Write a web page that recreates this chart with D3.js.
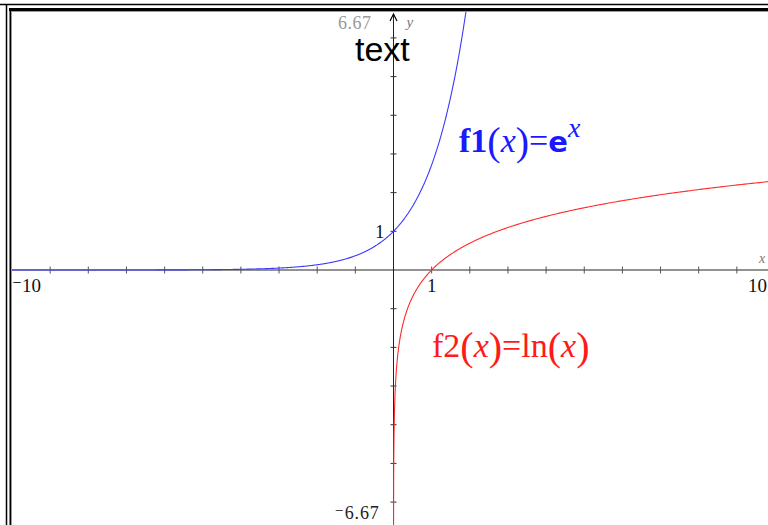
<!DOCTYPE html>
<html>
<head>
<meta charset="utf-8">
<script src="https://cdn.jsdelivr.net/npm/d3@7"></script>
<style>
  html, body { margin: 0; padding: 0; background: #fff; overflow: hidden; }
  svg { display: block; }
</style>
</head>
<body>
<svg id="chart" width="768" height="525"></svg>
<script>
// Graph window settings
const xWindow = [-10, 10];
const yWindow = [-6.67, 6.67];
const xTicks = d3.range(-10, 11, 1);
const yTicks = d3.range(-6, 7, 1);

// Axis labels shown on the graph
const xEndLabels = ["\u207B10", "10"];
const yEndLabels = ["6.67", "\u207B6.67"];
const unitLabel = "1";

// Graphed functions
const functionNames = ["f1", "f2"];
const functionColors = ["#1a1aff", "#ff1a1a"];
const functionDefs = [Math.exp, Math.log];
// x samples for f1, y samples (inverse) for f2 so the steep part near 0 stays smooth
const f1Samples = d3.range(-10, 2.01, 0.02);
const f2Levels = d3.range(-7.5, 2.45, 0.01);

const W = 768, H = 525;
const svg = d3.select("#chart");

// Plot area (the window extends slightly beyond the right edge of the screen)
const plot = { left: 12, top: 12, right: 775, bottom: 528 };

const x = d3.scaleLinear().domain(xWindow).range([plot.left, plot.right]);
const y = d3.scaleLinear().domain(yWindow).range([plot.bottom, plot.top]);

svg.append("defs").append("clipPath").attr("id", "plotclip")
  .append("rect")
  .attr("x", plot.left).attr("y", plot.top)
  .attr("width", plot.right - plot.left).attr("height", plot.bottom - plot.top);

// Frame
svg.append("line").attr("x1", 0).attr("x2", W).attr("y1", 4.5).attr("y2", 4.5)
  .attr("stroke", "#000").attr("stroke-width", 1.5);
svg.append("line").attr("x1", 6.5).attr("x2", 6.5).attr("y1", 4).attr("y2", H)
  .attr("stroke", "#000").attr("stroke-width", 1.5);
svg.append("line").attr("x1", 9).attr("x2", W).attr("y1", 9.5).attr("y2", 9.5)
  .attr("stroke", "#000").attr("stroke-width", 3);
svg.append("line").attr("x1", 10.5).attr("x2", 10.5).attr("y1", 8).attr("y2", H)
  .attr("stroke", "#000").attr("stroke-width", 2);
svg.append("line").attr("x1", 11.5).attr("x2", 11.5).attr("y1", 11).attr("y2", H)
  .attr("stroke", "#999").attr("stroke-width", 1);
svg.append("line").attr("x1", 11).attr("x2", W).attr("y1", 11.5).attr("y2", 11.5)
  .attr("stroke", "#999").attr("stroke-width", 1);

const g = svg.append("g");

const x0 = x(0), y0 = y(0);

// x axis
g.append("line").attr("x1", plot.left).attr("x2", plot.right)
  .attr("y1", y0).attr("y2", y0)
  .attr("stroke", "#6e6e6e").attr("stroke-width", 1.6);
g.selectAll(".xtick").data(xTicks.filter(d => d !== 0 && d !== -10 && d !== 10)).join("line")
  .attr("x1", d => x(d)).attr("x2", d => x(d))
  .attr("y1", y0 - 3.5).attr("y2", y0 + 3.5)
  .attr("stroke", "#555").attr("stroke-width", 1);

// y axis
g.append("line").attr("x1", x0).attr("x2", x0)
  .attr("y1", plot.top + 2).attr("y2", plot.bottom)
  .attr("stroke", "#222").attr("stroke-width", 1);
g.selectAll(".ytick").data(yTicks.filter(d => d !== 0)).join("line")
  .attr("x1", x0 - 3).attr("x2", x0 + 3)
  .attr("y1", d => y(d)).attr("y2", d => y(d))
  .attr("stroke", "#333").attr("stroke-width", 1);

// y axis arrow head
g.append("path")
  .attr("d", `M${x0 - 3.5},${plot.top + 9} L${x0},${plot.top + 2} L${x0 + 3.5},${plot.top + 9}`)
  .attr("fill", "none").attr("stroke", "#000").attr("stroke-width", 1.2);

// Function graphs
const line = d3.line().x(d => x(d[0])).y(d => y(d[1]));
const f1Points = f1Samples.map(v => [v, functionDefs[0](v)]);
const f2Points = f2Levels.map(v => [Math.exp(v), v]).filter(d => d[0] <= 10);
f2Points.push([10, functionDefs[1](10)]);

const curves = svg.append("g").attr("clip-path", "url(#plotclip)");
curves.append("path").datum(f1Points).attr("d", line)
  .attr("fill", "none").attr("stroke", "#3a3aff").attr("stroke-width", 1.1);
curves.append("path").datum(f2Points).attr("d", line)
  .attr("fill", "none").attr("stroke", "#ff2a2a").attr("stroke-width", 1.1);

// Axis labels
const serif = "'Liberation Serif', 'DejaVu Serif', serif";
const tickFont = 19;

svg.append("text").attr("x", 12).attr("y", 292)
  .attr("font-family", serif).attr("font-size", tickFont).attr("fill", "#111")
  .text(xEndLabels[0]);
svg.append("text").attr("x", 767).attr("y", 292).attr("text-anchor", "end")
  .attr("font-family", serif).attr("font-size", tickFont).attr("fill", "#111")
  .text(xEndLabels[1]);
svg.append("text").attr("x", x(1)).attr("y", 292).attr("text-anchor", "middle")
  .attr("font-family", serif).attr("font-size", tickFont).attr("fill", "#111")
  .text(unitLabel);
svg.append("text").attr("x", x0 - 9).attr("y", y(1) + 7).attr("text-anchor", "end")
  .attr("font-family", serif).attr("font-size", tickFont).attr("fill", "#111")
  .text(unitLabel);
svg.append("text").attr("x", x0 - 22).attr("y", 29).attr("text-anchor", "end")
  .attr("font-family", serif).attr("font-size", 18).attr("fill", "#999")
  .attr("letter-spacing", 0.5)
  .text(yEndLabels[0]);
svg.append("text").attr("x", x0 - 14).attr("y", 519).attr("text-anchor", "end")
  .attr("font-family", serif).attr("font-size", 18).attr("fill", "#222")
  .attr("letter-spacing", 0.8)
  .text(yEndLabels[1]);
svg.append("text").attr("x", x0 + 13).attr("y", 27)
  .attr("font-family", serif).attr("font-size", 15).attr("font-style", "italic")
  .attr("fill", "#777").text("y");
svg.append("text").attr("x", 759).attr("y", 263)
  .attr("font-family", serif).attr("font-size", 14).attr("font-style", "italic")
  .attr("fill", "#777").text("x");

// Title-like text object
svg.append("text").attr("x", 355).attr("y", 61)
  .attr("font-family", "'Liberation Sans', Arial, sans-serif").attr("font-size", 34)
  .attr("fill", "#000").text("text");

// Function labels
function fnLabel(px, py, name, color, bold, rhs) {
  const t = svg.append("text").attr("x", px).attr("y", py)
    .attr("font-family", serif).attr("font-size", 34).attr("fill", color)
    .attr("font-weight", bold ? "bold" : "normal");
  t.append("tspan").text(name);
  t.append("tspan").attr("font-weight", "normal").attr("font-size", 40).attr("dy", 3).text("(");
  t.append("tspan").attr("font-style", "italic").attr("font-weight", "normal").attr("dy", -3).text("x");
  t.append("tspan").attr("font-weight", "normal").attr("font-size", 40).attr("dy", 3).text(")");
  t.append("tspan").attr("font-weight", "normal").attr("dy", -3).text("=");
  rhs(t);
}

fnLabel(459, 152, functionNames[0], functionColors[0], true, t => {
  t.append("tspan").attr("font-family", "'DejaVu Sans', sans-serif").attr("font-weight", "bold")
    .attr("font-size", 29).text("e");
  t.append("tspan").attr("font-style", "italic").attr("font-weight", "normal")
    .attr("font-size", 28).attr("dy", -15).text("x");
});

fnLabel(432, 357, functionNames[1], functionColors[1], false, t => {
  t.append("tspan").text("ln");
  t.append("tspan").attr("font-size", 40).attr("dy", 3).text("(");
  t.append("tspan").attr("font-style", "italic").attr("dy", -3).text("x");
  t.append("tspan").attr("font-size", 40).attr("dy", 3).text(")");
});
</script>
</body>
</html>
